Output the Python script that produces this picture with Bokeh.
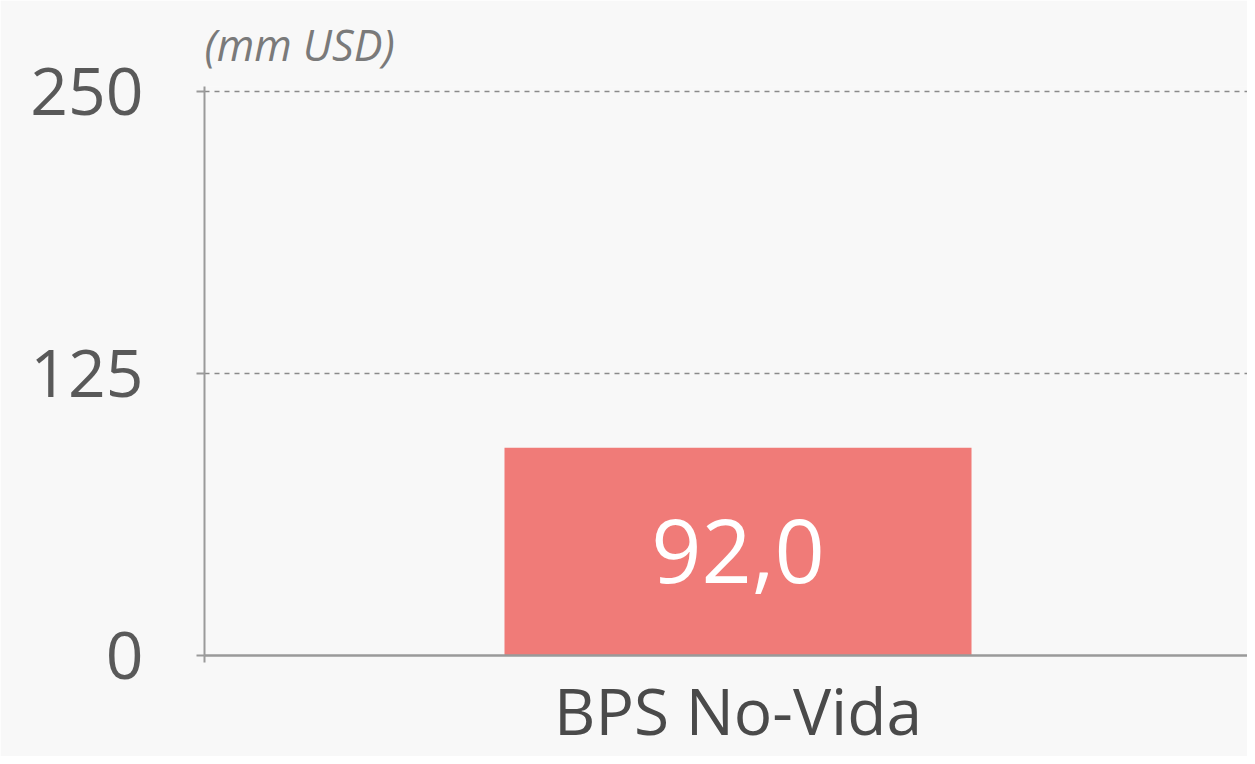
from bokeh.plotting import figure
from bokeh.models import ColumnDataSource, LabelSet, Range1d, FixedTicker
from bokeh.core.properties import value
from bokeh.embed import file_html
from bokeh.resources import INLINE

categories = ["BPS No-Vida"]
values = [92.0]
y_ticks = [0, 125, 250]
unit_label = "(mm USD)"

FONT = "Open Sans"
BG = "#f8f8f8"

xs = list(range(len(categories)))
src = ColumnDataSource(dict(
    x=xs,
    top=values,
    mid=[v / 2 for v in values],
    txt=[f"{v:.1f}".replace(".", ",") for v in values],
))

p = figure(width=1247, height=756, output_backend="svg", toolbar_location=None,
           x_range=Range1d(-0.5, 0.4775), y_range=Range1d(0, 252),
           background_fill_color=BG, border_fill_color=BG,
           min_border_left=204, min_border_right=0, min_border_top=85,
           min_border_bottom=101)
p.outline_line_color = None

p.vbar(x="x", top="top", bottom=0, width=0.4377, source=src,
       fill_color="#f07b78", line_color=None)

# title used as unit label
p.title.text = unit_label
p.title.align = "left"
p.title.text_font = FONT
p.title.text_font_size = "43px"
p.title.text_font_style = "italic"
p.title.text_color = "#7a7a7a"
p.title.standoff = 25

# grid
p.xgrid.visible = False
p.ygrid.ticker = FixedTicker(ticks=y_ticks)
p.ygrid.grid_line_color = "#8a8a8a"
p.ygrid.grid_line_dash = "5 5"
p.ygrid.grid_line_width = 1.5

# y axis
p.yaxis.ticker = FixedTicker(ticks=y_ticks)
p.yaxis.axis_line_color = "#9a9a9a"
p.yaxis.axis_line_width = 2
p.yaxis.major_tick_line_color = "#9a9a9a"
p.yaxis.major_tick_line_width = 2
p.yaxis.major_tick_out = 8
p.yaxis.major_tick_in = 0
p.yaxis.minor_tick_line_color = None
p.yaxis.major_label_text_font = FONT
p.yaxis.major_label_text_font_size = "66px"
p.yaxis.major_label_text_color = "#595959"
p.yaxis.major_label_standoff = 53

# x axis (category labels)
p.xaxis.ticker = FixedTicker(ticks=xs, minor_ticks=[-0.5])
p.xaxis.major_label_overrides = {i: c for i, c in zip(xs, categories)}
p.xaxis.axis_line_color = "#9a9a9a"
p.xaxis.axis_line_width = 2.5
p.xaxis.major_tick_line_color = None
p.xaxis.major_tick_out = 0
p.xaxis.major_tick_in = 0
p.xaxis.minor_tick_line_color = "#9a9a9a"
p.xaxis.minor_tick_line_width = 2
p.xaxis.minor_tick_out = 7
p.xaxis.minor_tick_in = 0
p.xaxis.major_label_text_font = FONT
p.xaxis.major_label_text_font_size = "64px"
p.xaxis.major_label_text_color = "#4a4a4a"
p.xaxis.major_label_standoff = 4

# value labels
p.add_layout(LabelSet(x="x", y="mid", text="txt", source=src,
                      text_align="center", text_baseline="middle",
                      text_font=value(FONT), text_font_size=value("88px"),
                      text_color="white"))

open("out.html", "w").write(file_html(p, INLINE))
